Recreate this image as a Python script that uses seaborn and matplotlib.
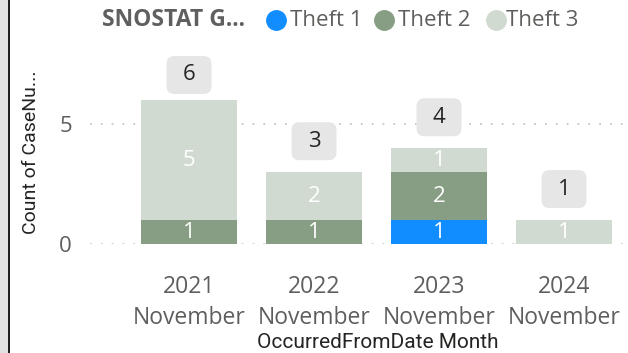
import matplotlib
matplotlib.use("Agg")
import matplotlib.pyplot as plt
from matplotlib.patches import FancyBboxPatch, Rectangle
from matplotlib.lines import Line2D
import numpy as np
import pandas as pd
import seaborn as sns

# Monthly case counts by theft category
months = ["2021\nNovember", "2022\nNovember", "2023\nNovember", "2024\nNovember"]
series_names = ["Theft 1", "Theft 2", "Theft 3"]
theft1 = [0, 0, 1, 0]
theft2 = [1, 1, 2, 0]
theft3 = [5, 2, 1, 1]
legend_title = "SNOSTAT G..."
x_title = "OccurredFromDate Month"
y_title = "Count of CaseNu..."

colors = ["#118DFF", "#879E84", "#D0DAD0"]

sns.set_theme(style="white")
plt.rcParams["font.family"] = ["Open Sans", "DejaVu Sans"]

W, H = 628, 353
fig = plt.figure(figsize=(W / 100, H / 100), dpi=100)

# plot area in pixel coordinates
ax_l, ax_r, ax_t, ax_b = 90, 626, 56, 244
ax = fig.add_axes([ax_l / W, 1 - ax_b / H, (ax_r - ax_l) / W, (ax_b - ax_t) / H])

df = pd.DataFrame({"month": months, "Theft 1": theft1, "Theft 2": theft2, "Theft 3": theft3})
stack = df[series_names].cumsum(axis=1)
df["total"] = stack["Theft 3"]

# draw cumulative heights from the top segment down so each layer covers the last
for name, col in zip(reversed(series_names), reversed(colors)):
    sns.barplot(data=stack.assign(month=months), x="month", y=name, order=months,
                color=col, width=0.768, saturation=1, ax=ax, linewidth=0, zorder=2)

y_top = 7.856
ax.set_ylim(0, y_top)
ax.set_xlim(-0.792, -0.792 + (ax_r - ax_l) / 125)
ax.set_yticks([0, 5])
ax.grid(axis="y", color="#C8C6C4", linestyle=(0, (1, 5)), linewidth=1.3, zorder=0)
ax.grid(axis="x", visible=False)
for s in ax.spines.values():
    s.set_visible(False)
ax.tick_params(axis="y", length=0, pad=13, labelsize=16, labelcolor="#605E5C")
ax.tick_params(axis="x", length=0, pad=22, labelsize=16.5, labelcolor="#605E5C")
for lbl in ax.get_xticklabels():
    lbl.set_linespacing(1.42)
ax.set_xlabel("")
ax.set_ylabel("")

# segment value labels
bottoms = np.zeros(len(months))
for name in series_names:
    vals = np.array(df[name], dtype=float)
    for i, v in enumerate(vals):
        if v > 0:
            ax.text(i, bottoms[i] + v / 2, f"{int(v)}", ha="center", va="center",
                    color="white", fontsize=16, zorder=4)
    bottoms += vals

# total labels in rounded boxes above each bar
px_x = 125.0
px_y = (ax_b - ax_t) / y_top
bw, bh = 45 / px_x, 38 / px_y
aspect = px_x / px_y
for i, tot in enumerate(df["total"]):
    cy = min(tot + 31 / px_y, y_top - bh / 2)
    box = FancyBboxPatch((i - bw / 2, cy - bh / 2), bw, bh,
                         boxstyle=f"round,pad=0,rounding_size={8 / px_x}",
                         mutation_aspect=aspect, fc="#E6E6E6", ec="none",
                         zorder=3, clip_on=False)
    ax.add_patch(box)
    ax.text(i, cy, f"{int(tot)}", ha="center", va="center", color="#252423",
            fontsize=16, zorder=4)

# axis titles
fig.text(378 / W, 1 - 342 / H, x_title, ha="center", va="center",
         fontsize=15, color="#252423", family=["Roboto", "DejaVu Sans"])
fig.text(31 / W, 1 - 152 / H, y_title, ha="center", va="center", rotation=90,
         fontsize=14, color="#252423", family=["Roboto", "DejaVu Sans"])

# legend row
fig.text(102 / W, 1 - 20 / H, legend_title, ha="left", va="center", fontsize=16.5,
         fontweight="bold", color="#5F5F5F")
marker_x = [276, 384, 496]
text_x = [290, 398, 506]
for name, col, mx, tx in zip(series_names, colors, marker_x, text_x):
    fig.add_artist(Line2D([mx / W], [1 - 20 / H], marker="o", markersize=14,
                          color=col, linestyle="none", transform=fig.transFigure))
    fig.text(tx / W, 1 - 20 / H, name, ha="left", va="center", fontsize=16,
             color="#605E5C")

# window frame on the left edge
fig.add_artist(Rectangle((0, 0), 8 / W, 1, transform=fig.transFigure,
                         fc="#E1E1E1", ec="none"))
fig.add_artist(Rectangle((8 / W, 0), 2 / W, 1, transform=fig.transFigure,
                         fc="#1E1E1E", ec="none"))

fig.savefig("out.png", dpi=100)
